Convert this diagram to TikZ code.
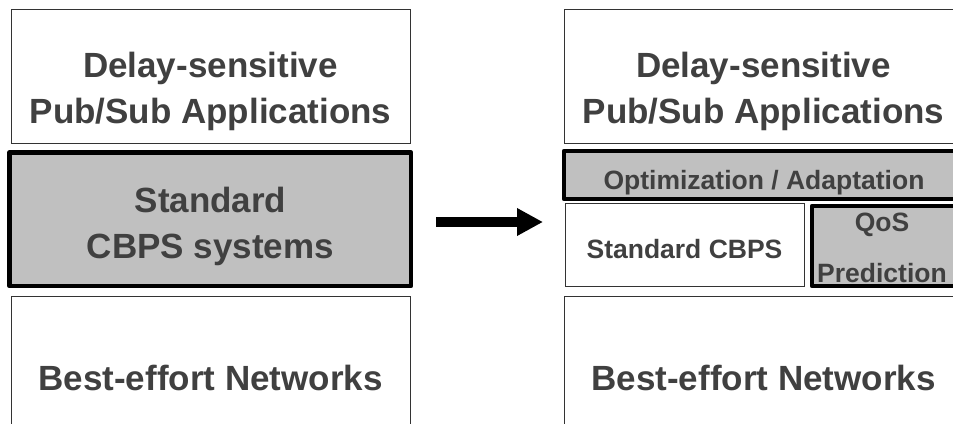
\documentclass[tikz,border=0pt]{standalone}
\usepackage{fontspec}
\setmainfont{Liberation Sans}
\usetikzlibrary{arrows.meta}
\definecolor{txtgray}{HTML}{404040}
\definecolor{boxgray}{HTML}{C0C0C0}
\definecolor{thinline}{HTML}{333333}
\tikzset{
  thinbox/.style={draw=thinline, line width=1pt, fill=white, rectangle, inner sep=0pt, outer sep=0pt},
  thickbox/.style={draw=black, line width=4.5pt, fill=boxgray, rectangle, line join=round, inner sep=0pt, outer sep=0pt},
  bigtxt/.style={text=txtgray, font=\fontsize{35}{46}\selectfont\bfseries, align=center, anchor=base, inner sep=0pt},
  smalltxt/.style={text=txtgray, font=\fontsize{26.5}{51}\selectfont\bfseries, align=center, anchor=base, inner sep=0pt},
  bigarrow/.style={line width=10pt, -{Triangle[length=26pt,width=26pt]}}
}
\begin{document}
\begin{tikzpicture}[x=1pt,y=-1pt]
\useasboundingbox (0,0) rectangle (953,423);
\clip (0,0) rectangle (953,423);
% left column
\node[thinbox, minimum width=399pt, minimum height=134pt] (lapp) at (210.5,76) {};
\node[thickbox, minimum width=401.5pt, minimum height=133.5pt] (lcbps) at (210.25,219.25) {};
\node[thinbox, minimum width=399pt, minimum height=150pt] (lnet) at (210.5,371) {};
\node[bigtxt] (lappt) at (210.5,123) {Delay-sensitive\\Pub/Sub Applications};
\node[bigtxt] (lcbpst) at (210.5,258) {Standard\\CBPS systems};
\node[bigtxt] (lnett) at (210.5,390) {Best-effort Networks};
% arrow
\coordinate (as) at (436,222);
\coordinate (ae) at (543,222);
\draw[bigarrow] (as) -- (ae);
% right column
\node[thinbox, minimum width=399pt, minimum height=134pt] (rapp) at (763.5,76) {};
\node[thickbox, minimum width=401pt, minimum height=48pt] (ropt) at (764.5,175) {};
\node[thinbox, minimum width=239pt, minimum height=83pt] (rstd) at (684.5,244.5) {};
\node[thickbox, minimum width=153pt, minimum height=80pt] (rqos) at (888.5,246) {};
\node[thinbox, minimum width=399pt, minimum height=150pt] (rnet) at (763.5,371) {};
\node[bigtxt] (rappt) at (763.5,123) {Delay-sensitive\\Pub/Sub Applications};
\node[smalltxt] (ropt) at (764,189) {Optimization / Adaptation};
\node[smalltxt] (rstdt) at (684.5,258) {Standard CBPS};
\node[smalltxt] (rqost) at (882,282) {QoS\\Prediction};
\node[bigtxt] (rnett) at (763.5,390) {Best-effort Networks};
\end{tikzpicture}
\end{document}
